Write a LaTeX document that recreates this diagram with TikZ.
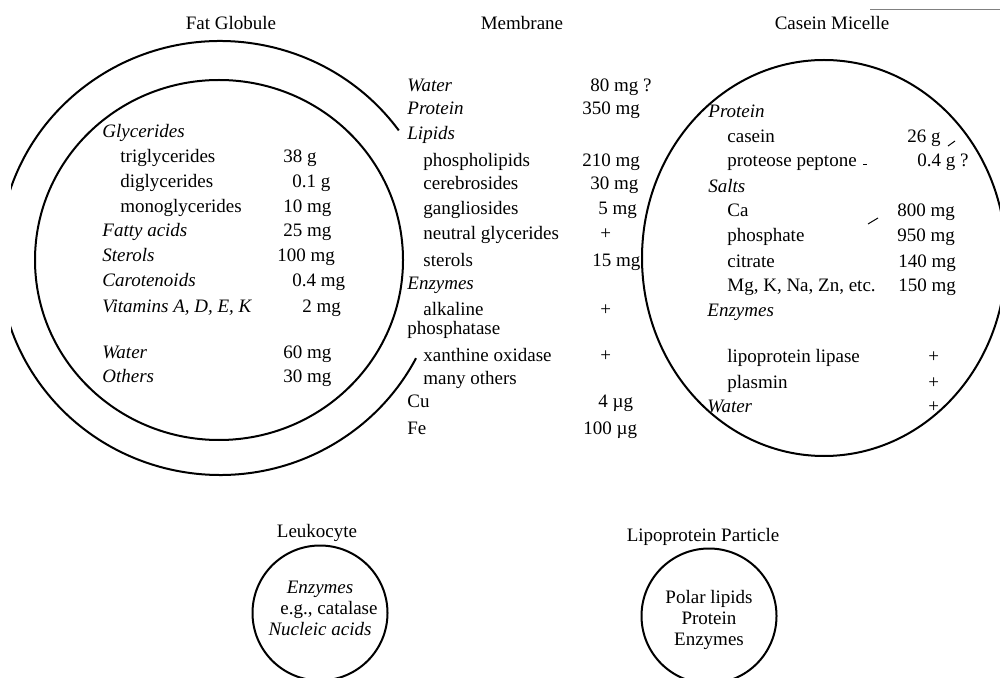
\documentclass[tikz,border=0pt]{standalone}
\usepackage{fontspec}
\setmainfont{Liberation Serif}

\begin{document}
\fontsize{9.5}{12}\selectfont
\begin{tikzpicture}[x=0.5pt,y=0.5pt,
  every node/.style={inner sep=0pt},
  title/.style={anchor=base},
  head/.style={anchor=base west,font=\itshape},
  item/.style={anchor=base west},
  amount/.style={anchor=base west},
  shell/.style={line width=1pt},
  cell/.style={draw,circle,line width=1pt,minimum size=67.5pt,inner sep=0pt},
  celltext/.style={align=center,font=\fontsize{9.5}{10.5}\selectfont},
  speck/.style={line width=0.5pt}
]
\useasboundingbox (0,0) rectangle (1000,-678);
\clip (11,0) rectangle (1000,-678);

% outlines
\coordinate (fat) at (220,-258);
\coordinate (core) at (219,-260);
\coordinate (micelle) at (824,-258);
\draw[shell] (fat) ++(36:221 and 217)
  arc[start angle=36,end angle=332.5,x radius=221,y radius=217];
\draw[shell] (core) ellipse[x radius=184,y radius=180];
\draw[shell] (micelle) ellipse[x radius=182,y radius=198];

% titles
\node[title] (fat-title) at (231,-30) {Fat Globule};
\node[title] (mem-title) at (522,-30) {Membrane};
\node[title] (cas-title) at (832,-30) {Casein Micelle};
\node[title] (leuko-title) at (317,-537) {Leukocyte};
\node[title] (lipo-title) at (703,-541) {Lipoprotein Particle};

% fat globule
\node[head] (glyc) at (102,-138) {Glycerides};
\node[item] (tri) at (120,-163) {triglycerides};
\node[amount] (tri-amt) at (283,-163) {38 g};
\node[item] (di) at (120,-188) {diglycerides};
\node[amount] (di-amt) at (292,-188) {0.1 g};
\node[item] (mono) at (120,-213) {monoglycerides};
\node[amount] (mono-amt) at (283,-213) {10 mg};
\node[head] (fatty) at (102,-237) {Fatty acids};
\node[amount] (fatty-amt) at (283,-237) {25 mg};
\node[head] (sterols) at (102,-262) {Sterols};
\node[amount] (sterols-amt) at (277,-262) {100 mg};
\node[head] (carot) at (102,-287) {Carotenoids};
\node[amount] (carot-amt) at (292,-287) {0.4 mg};
\node[head] (vit) at (102,-313) {Vitamins A, D, E, K};
\node[amount] (vit-amt) at (302,-313) {2 mg};
\node[head] (fwater) at (102,-358) {Water};
\node[amount] (fwater-amt) at (283,-358) {60 mg};
\node[head] (others) at (102,-382) {Others};
\node[amount] (others-amt) at (283,-382) {30 mg};

% membrane
\node[head] (mwater) at (407,-92) {Water};
\node[amount] (mwater-amt) at (590,-92) {80 mg ?};
\node[head] (mprot) at (407,-115) {Protein};
\node[amount] (mprot-amt) at (582,-115) {350 mg};
\node[head] (lipids) at (407,-140) {Lipids};
\node[item] (phlip) at (423,-167) {phospholipids};
\node[amount] (phlip-amt) at (582,-167) {210 mg};
\node[item] (cereb) at (423,-190) {cerebrosides};
\node[amount] (cereb-amt) at (590,-190) {30 mg};
\node[item] (gangl) at (423,-215) {gangliosides};
\node[amount] (gangl-amt) at (598,-215) {5 mg};
\node[item] (neutral) at (423,-240) {neutral glycerides};
\node[amount] (neutral-amt) at (600,-240) {+};
\node[item] (msterols) at (423,-267) {sterols};
\node[amount] (msterols-amt) at (592,-267) {15 mg};
\node[head] (menz) at (407,-290) {Enzymes};
\node[item] (alk) at (423,-315) {alkaline};
\node[amount] (alk-amt) at (600,-315) {+};
\node[item] (phosph) at (407,-335) {phosphatase};
\node[item] (xanth) at (423,-361) {xanthine oxidase};
\node[amount] (xanth-amt) at (600,-361) {+};
\node[item] (many) at (423,-385) {many others};
\node[item] (cu) at (407,-408) {Cu};
\node[amount] (cu-amt) at (598,-408) {4 µg};
\node[item] (fe) at (407,-434) {Fe};
\node[amount] (fe-amt) at (583,-434) {100 µg};

% casein micelle
\node[head] (cprot) at (708,-118) {Protein};
\node[item] (casein) at (727,-143) {casein};
\node[amount] (casein-amt) at (907,-143) {26 g};
\node[item] (pp) at (727,-167) {proteose peptone};
\node[amount] (pp-amt) at (917,-167) {0.4 g ?};
\node[head] (salts) at (708,-193) {Salts};
\node[item] (ca) at (727,-217) {Ca};
\node[amount] (ca-amt) at (897,-217) {800 mg};
\node[item] (phos) at (727,-242) {phosphate};
\node[amount] (phos-amt) at (897,-242) {950 mg};
\node[item] (citr) at (727,-268) {citrate};
\node[amount] (citr-amt) at (898,-268) {140 mg};
\node[item] (mg) at (727,-292) {Mg, K, Na, Zn, etc.};
\node[amount] (mg-amt) at (898,-292) {150 mg};
\node[head] (cenz) at (707,-317) {Enzymes};
\node[item] (lpl) at (727,-363) {lipoprotein lipase};
\node[amount] (lpl-amt) at (928,-363) {+};
\node[item] (plasmin) at (727,-388) {plasmin};
\node[amount] (plasmin-amt) at (928,-388) {+};
\node[head] (cwater) at (707,-412) {Water};
\node[amount] (cwater-amt) at (928,-412) {+};

% small particles
\node[cell,label={[celltext,yshift=2.5pt]center:{\textit{Enzymes}\\
  \hspace*{9pt}e.g., catalase\\ \textit{Nucleic acids}}}] (leuko) at (320,-613) {};
\node[cell,label={[celltext,yshift=-2pt]center:{Polar lipids\\ Protein\\
  Enzymes}}] (lipo) at (709,-616) {};

% stray marks
\draw[speck] (948,-146) -- (955,-141);
\draw[speck] (863,-165) -- (867,-165);
\draw[speck] (868,-224) -- (878,-218);
\draw[speck,gray] (870,-10) -- (1000,-10);
\end{tikzpicture}
\end{document}
